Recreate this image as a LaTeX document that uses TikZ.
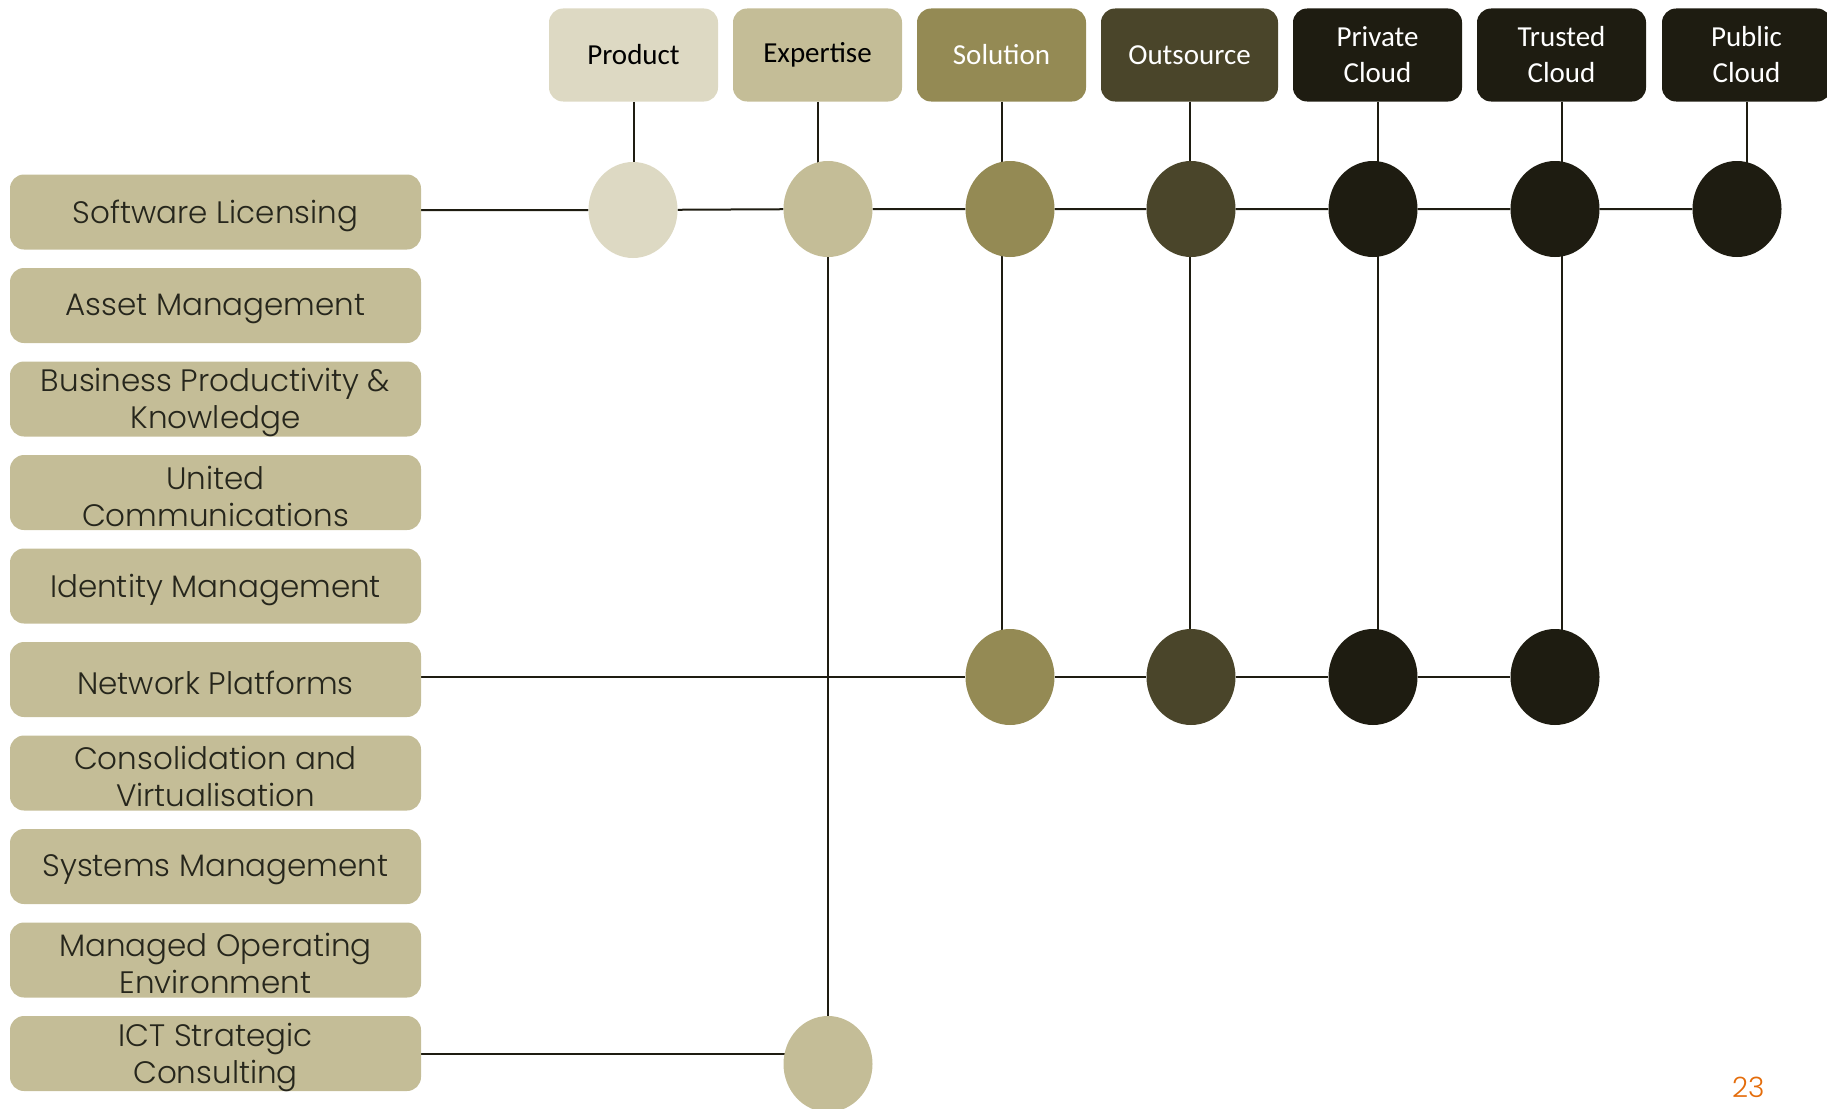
\documentclass[tikz,border=0pt]{standalone}
\usepackage{fontspec}
\setmainfont{Poppins}[UprightFont=* Light]
\newfontfamily\calfont{Carlito}
\usetikzlibrary{shapes.geometric,backgrounds}
\definecolor{cProd}{HTML}{DDD9C3}
\definecolor{cExp}{HTML}{C4BD97}
\definecolor{cSol}{HTML}{948A54}
\definecolor{cOut}{HTML}{4A452A}
\definecolor{cDark}{HTML}{1E1C11}
\definecolor{cLine}{HTML}{1E1C11}
\definecolor{cText}{HTML}{26261C}
\definecolor{cNum}{HTML}{E46C0A}
\tikzset{
  topbox/.style={rounded corners=14pt, minimum width=169pt, minimum height=93pt, inner sep=0pt, align=center, font=\calfont\fontsize{29}{36}\selectfont},
  leftbox/.style={rounded corners=14pt, fill=cExp, minimum width=411pt, minimum height=75pt, inner sep=0pt},
  lefttext/.style={inner sep=0pt, align=center, text=cText, font=\fontsize{31}{37}\selectfont, yshift=-3.5pt},
  dot/.style={ellipse, minimum width=89pt, minimum height=96pt, inner sep=0pt},
  conn/.style={draw=cLine, line width=2pt},
}
\begin{document}
\begin{tikzpicture}[x=1pt,y=-1pt]
\useasboundingbox (0,0) rectangle (1827,1108);
\clip (0,0) rectangle (1827,1108);
% top boxes
\node[topbox, fill=cProd, text=black] (p) at (633.5,55) {Product};
\node[topbox, fill=cExp, text=black] (x) at (817.5,55) {Expertise};
\node[topbox, fill=cSol, text=white] (s) at (1001.5,55) {Solution};
\node[topbox, fill=cOut, text=white, minimum width=177pt] (o) at (1189.5,55) {Outsource};
\node[topbox, fill=cDark, text=white] (pr) at (1377.5,55) {Private\\Cloud};
\node[topbox, fill=cDark, text=white] (tr) at (1561.5,55) {Trusted\\Cloud};
\node[topbox, fill=cDark, text=white] (pu) at (1746.5,55) {Public\\Cloud};
% left boxes
\node[leftbox, label={[name=slt, lefttext]center:Software Licensing}] (sl) at (215.5,212) {};
\node[leftbox, label={[name=amt, lefttext]center:Asset Management}] (am) at (215.5,305.5) {};
\node[leftbox, label={[name=bpt, lefttext]center:Business Productivity \&\\Knowledge}] (bp) at (215.5,399) {};
\node[leftbox, label={[name=uct, lefttext]center:United\\Communications}] (uc) at (215.5,492.5) {};
\node[leftbox, label={[name=imt, lefttext]center:Identity Management}] (im) at (215.5,586) {};
\node[leftbox, label={[name=npt, lefttext]center:Network Platforms}] (np) at (215.5,679.5) {};
\node[leftbox, label={[name=cvt, lefttext]center:Consolidation and\\Virtualisation}] (cv) at (215.5,773) {};
\node[leftbox, label={[name=smt, lefttext]center:Systems Management}] (sm) at (215.5,866.5) {};
\node[leftbox, label={[name=mot, lefttext]center:Managed Operating\\Environment}] (mo) at (215.5,960) {};
\node[leftbox, label={[name=ictt, lefttext]center:ICT Strategic\\Consulting}] (ict) at (215.5,1053.5) {};
% top row of dots
\node[dot, fill=cProd] (e1) at (633,210) {};
\node[dot, fill=cExp] (e2) at (828,209) {};
\node[dot, fill=cSol] (e3) at (1010,209) {};
\node[dot, fill=cOut] (e4) at (1191,209) {};
\node[dot, fill=cDark] (e5) at (1373,209) {};
\node[dot, fill=cDark] (e6) at (1555,209) {};
\node[dot, fill=cDark] (e7) at (1737,209) {};
% bottom row of dots
\node[dot, fill=cSol] (f3) at (1010,677) {};
\node[dot, fill=cOut] (f4) at (1191,677) {};
\node[dot, fill=cDark] (f5) at (1373,677) {};
\node[dot, fill=cDark] (f6) at (1555,677) {};
% ICT dot
\node[dot, fill=cExp] (g) at (828,1064) {};
% page number
\node[anchor=south west, inner sep=0pt, text=cNum, font=\fontsize{28}{28}\selectfont] (pg) at (1732,1098) {23};
\begin{pgfonlayer}{background}
  \draw[conn] (p.south) -- (p.south |- e1.center);
  \draw[conn] (x.south) -- (x.south |- e2.center);
  \draw[conn] (s.south) -- (s.south |- f3.center);
  \draw[conn] (o.south) -- (o.south |- f4.center);
  \draw[conn] (pr.south) -- (pr.south |- f5.center);
  \draw[conn] (tr.south) -- (tr.south |- f6.center);
  \draw[conn] (pu.south) -- (pu.south |- e7.center);
  \draw[conn] (e2) -- (g);
  \draw[conn] (sl.east |- e1) -- (e1) -- (e2) -- (e3) -- (e4) -- (e5) -- (e6) -- (e7);
  \draw[conn] (np.east |- f3) -- (f3) -- (f4) -- (f5) -- (f6);
  \draw[conn] (ict.east) -- (ict.east -| g);
\end{pgfonlayer}
\end{tikzpicture}
\end{document}
